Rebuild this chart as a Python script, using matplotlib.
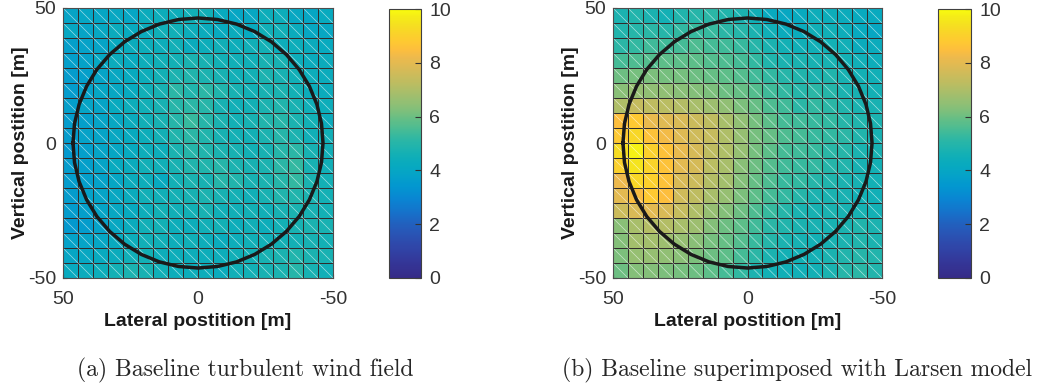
import numpy as np
import matplotlib
matplotlib.use('Agg')
import matplotlib.pyplot as plt
from matplotlib.colors import LinearSegmentedColormap, Normalize
from matplotlib.collections import LineCollection

# grid edges [m] (display order: left->right is 50 -> -50, top->bottom is 50 -> -50)
lateral_edges = np.linspace(50, -50, 19)
vertical_edges = np.linspace(50, -50, 19)
rotor_radius = 46.3

# (a) baseline turbulent wind field [m/s], rows top -> bottom
baseline = [
    [3.9, 4.0, 4.0, 4.1, 4.0, 4.3, 4.4, 4.4, 4.5, 4.5, 4.2, 4.0, 4.1, 4.4, 4.4, 4.1, 4.0, 4.2],
    [4.1, 3.9, 4.1, 4.3, 4.2, 4.3, 4.5, 4.5, 4.4, 4.3, 4.2, 4.3, 4.2, 4.5, 4.5, 4.3, 4.1, 4.1],
    [3.7, 3.8, 3.9, 4.2, 4.3, 4.4, 4.4, 4.5, 4.3, 4.4, 4.5, 4.4, 4.5, 4.6, 4.4, 4.4, 4.3, 4.2],
    [3.7, 3.8, 4.1, 4.3, 4.2, 4.4, 4.5, 4.6, 4.8, 4.7, 4.6, 4.5, 4.5, 4.7, 4.7, 4.4, 4.3, 4.3],
    [3.6, 3.7, 3.9, 4.1, 4.2, 4.4, 4.6, 4.8, 4.9, 4.8, 4.7, 4.5, 4.6, 4.8, 4.7, 4.5, 4.4, 4.3],
    [3.6, 3.8, 4.0, 4.1, 4.2, 4.5, 4.7, 5.1, 4.9, 5.1, 4.9, 4.7, 4.6, 4.7, 4.8, 4.6, 4.4, 4.3],
    [3.7, 3.9, 3.9, 4.2, 4.4, 4.5, 4.7, 5.0, 5.1, 5.0, 4.7, 4.5, 4.6, 4.8, 4.9, 4.7, 4.5, 4.4],
    [3.6, 3.7, 3.9, 4.1, 4.3, 4.5, 4.7, 5.0, 5.3, 5.0, 4.8, 4.6, 4.7, 4.9, 5.0, 4.8, 4.6, 4.3],
    [3.6, 3.8, 3.9, 4.1, 4.2, 4.4, 4.6, 4.9, 5.1, 4.9, 4.7, 4.6, 4.6, 4.8, 5.0, 4.8, 4.5, 4.5],
    [3.5, 3.7, 3.9, 4.0, 4.2, 4.4, 4.4, 4.8, 5.0, 4.9, 4.8, 4.7, 4.6, 4.7, 5.0, 5.1, 4.7, 4.5],
    [3.6, 3.7, 3.9, 4.2, 4.3, 4.5, 4.5, 4.7, 4.9, 4.9, 5.0, 4.8, 4.7, 4.8, 5.1, 5.2, 4.7, 4.5],
    [3.6, 3.7, 3.8, 4.0, 4.3, 4.4, 4.2, 4.6, 4.8, 4.7, 5.0, 4.9, 4.7, 4.8, 5.0, 5.2, 4.8, 4.6],
    [3.6, 3.8, 3.9, 4.1, 4.3, 4.5, 4.5, 4.6, 4.7, 4.8, 4.7, 4.6, 4.5, 4.7, 4.9, 4.9, 4.8, 4.6],
    [3.6, 3.7, 3.9, 4.1, 4.2, 4.4, 4.6, 4.5, 4.6, 4.7, 4.5, 4.5, 4.6, 4.5, 4.7, 4.8, 4.7, 4.6],
    [3.5, 3.6, 3.8, 4.1, 4.3, 4.5, 4.6, 4.4, 4.4, 4.5, 4.6, 4.4, 4.5, 4.4, 4.6, 4.7, 4.8, 4.7],
    [3.8, 3.9, 4.0, 4.2, 4.4, 4.5, 4.5, 4.4, 4.5, 4.4, 4.3, 4.4, 4.5, 4.5, 4.6, 4.6, 4.7, 4.6],
    [4.0, 4.1, 4.2, 4.3, 4.5, 4.6, 4.4, 4.4, 4.4, 4.4, 4.4, 4.5, 4.6, 4.7, 4.8, 4.9, 4.8, 4.7],
    [4.2, 4.3, 4.4, 4.6, 4.8, 4.7, 4.5, 4.4, 4.4, 4.4, 4.3, 4.5, 4.6, 4.7, 4.8, 5.0, 4.7, 4.5],
]

# (b) baseline superimposed with Larsen wake model [m/s], rows top -> bottom
larsen = [
    [4.8, 4.9, 4.8, 4.6, 4.9, 5.0, 5.1, 4.9, 4.8, 4.5, 4.2, 4.1, 4.2, 4.4, 4.4, 4.3, 4.2, 4.2],
    [4.9, 5.0, 5.1, 5.0, 5.2, 5.3, 5.3, 5.1, 5.0, 4.8, 4.5, 4.3, 4.3, 4.5, 4.5, 4.4, 4.2, 4.1],
    [5.1, 5.2, 5.4, 5.4, 5.5, 5.6, 5.5, 5.4, 5.3, 5.0, 4.8, 4.6, 4.5, 4.5, 4.6, 4.5, 4.3, 4.3],
    [5.5, 5.6, 5.7, 5.8, 5.8, 5.8, 5.7, 5.6, 5.5, 5.2, 4.9, 4.8, 4.8, 4.7, 4.7, 4.6, 4.5, 4.4],
    [6.0, 6.1, 6.2, 6.1, 6.1, 6.0, 5.9, 5.8, 5.7, 5.4, 5.2, 5.0, 4.9, 4.8, 4.9, 4.7, 4.6, 4.5],
    [6.4, 6.6, 6.5, 6.5, 6.4, 6.3, 6.2, 6.0, 5.9, 5.7, 5.4, 5.2, 5.0, 5.1, 5.0, 4.8, 4.7, 4.6],
    [7.0, 7.4, 7.3, 7.2, 7.1, 6.9, 6.7, 6.5, 6.2, 5.9, 5.6, 5.4, 5.1, 5.2, 5.1, 4.9, 4.8, 4.7],
    [8.5, 8.8, 8.1, 7.9, 7.8, 7.5, 7.3, 6.9, 6.5, 6.1, 5.8, 5.5, 5.4, 5.3, 5.2, 5.0, 4.9, 4.8],
    [8.8, 9.2, 8.6, 8.3, 7.9, 7.6, 7.4, 7.0, 6.6, 6.1, 5.9, 5.6, 5.5, 5.3, 5.2, 5.1, 4.9, 4.7],
    [9.3, 9.8, 9.0, 8.6, 8.1, 7.7, 7.3, 7.0, 6.6, 6.1, 5.8, 5.5, 5.4, 5.3, 5.1, 5.0, 4.8, 4.7],
    [9.0, 9.5, 9.1, 8.6, 8.0, 7.7, 7.2, 6.9, 6.4, 6.0, 5.7, 5.4, 5.3, 5.2, 5.0, 4.9, 4.7, 4.6],
    [8.2, 9.2, 9.0, 8.6, 7.8, 7.5, 7.1, 6.8, 6.3, 5.9, 5.6, 5.3, 5.2, 5.0, 4.9, 4.8, 4.7, 4.6],
    [8.0, 8.4, 8.8, 8.5, 7.6, 7.3, 6.9, 6.6, 6.2, 5.8, 5.5, 5.2, 5.0, 4.8, 4.8, 4.7, 4.6, 4.5],
    [7.5, 7.8, 8.0, 7.8, 7.4, 7.0, 6.6, 6.3, 6.0, 5.6, 5.3, 5.0, 4.8, 4.7, 4.8, 4.7, 4.7, 4.6],
    [6.4, 6.9, 7.1, 7.1, 6.9, 6.7, 6.3, 6.0, 5.8, 5.4, 5.1, 4.9, 4.8, 4.7, 4.7, 4.8, 4.9, 4.8],
    [6.3, 6.8, 6.8, 6.7, 6.6, 6.4, 6.1, 5.9, 5.7, 5.3, 5.0, 4.8, 4.7, 4.6, 4.7, 4.8, 4.9, 4.8],
    [6.2, 6.6, 6.6, 6.5, 6.4, 6.2, 6.0, 5.8, 5.5, 5.1, 4.8, 4.6, 4.6, 4.6, 4.8, 4.9, 5.0, 4.9],
    [6.0, 6.3, 6.3, 6.2, 6.1, 6.0, 5.8, 5.5, 5.2, 4.8, 4.6, 4.5, 4.5, 4.6, 4.8, 5.0, 5.1, 4.9],
]

captions = ['(a) Baseline turbulent wind field',
            '(b) Baseline superimposed with Larsen model']

# parula-like map, blues toned down to match the printed figure
parula_pts = [
    (0.00, (0.2081, 0.1663, 0.5292)), (0.06, (0.205, 0.215, 0.600)),
    (0.12, (0.185, 0.280, 0.665)), (0.18, (0.150, 0.350, 0.725)),
    (0.24, (0.090, 0.440, 0.790)), (0.29, (0.040, 0.520, 0.825)),
    (0.34, (0.010, 0.590, 0.815)), (0.38, (0.020, 0.635, 0.785)),
    (0.42, (0.030, 0.665, 0.750)), (0.46, (0.075, 0.690, 0.710)),
    (0.50, (0.145, 0.710, 0.665)), (0.53, (0.218, 0.725, 0.619)),
    (0.56, (0.302, 0.738, 0.571)), (0.59, (0.395, 0.746, 0.524)),
    (0.62, (0.487, 0.749, 0.484)), (0.66, (0.590, 0.748, 0.445)),
    (0.70, (0.680, 0.744, 0.405)), (0.74, (0.770, 0.737, 0.368)),
    (0.78, (0.850, 0.730, 0.336)), (0.82, (0.930, 0.727, 0.300)),
    (0.85, (0.990, 0.745, 0.240)), (0.88, (0.996, 0.786, 0.197)),
    (0.91, (0.979, 0.827, 0.163)), (0.94, (0.963, 0.871, 0.131)),
    (0.97, (0.960, 0.922, 0.095)), (1.00, (0.9763, 0.9831, 0.0538)),
]
parula = LinearSegmentedColormap.from_list('parula', parula_pts, N=256)

TXT = '0.2'
plt.rcParams['font.family'] = ['Liberation Sans', 'DejaVu Sans']
plt.rcParams['axes.unicode_minus'] = False


def drawField(ax, cax, values):
       values = np.array(values)
       norm = Normalize(0, 10)
       mesh = ax.pcolormesh(lateral_edges, vertical_edges, values, cmap=parula, norm=norm,
                            edgecolors='#302c2c', linewidth=0.6)

       # white diagonals of the triangulated surface
       segs = []
       for i in range(len(vertical_edges) - 1):
              for j in range(len(lateral_edges) - 1):
                     segs.append([(lateral_edges[j], vertical_edges[i]),
                                  (lateral_edges[j + 1], vertical_edges[i + 1])])
       ax.add_collection(LineCollection(segs, colors='white', linewidths=0.5, alpha=0.6))

       t = np.linspace(0, 2 * np.pi, 41)
       ax.plot(rotor_radius * np.cos(t), rotor_radius * np.sin(t), color='#1a1a1a', lw=2.5)

       ax.set_xlim(50, -50)
       ax.set_ylim(-50, 50)
       ax.set_xticks([50, 0, -50])
       ax.set_yticks([-50, 0, 50])
       ax.tick_params(direction='in', labelsize=14, colors=TXT, length=3, pad=5)
       ax.tick_params(axis='x', pad=9)
       ax.set_xlabel('Lateral postition [m]', fontsize=14, fontweight='bold', color='0.1', labelpad=4)
       ax.set_ylabel('Vertical postition [m]', fontsize=14, fontweight='bold', color='0.1', labelpad=-1)
       for s in ax.spines.values():
              s.set_color('0.3')

       cb = plt.colorbar(mesh, cax=cax, ticks=range(0, 11, 2))
       cb.ax.tick_params(direction='in', labelsize=14, colors=TXT, length=4, pad=6)
       cb.outline.set_edgecolor('0.25')
       cb.outline.set_linewidth(0.8)


def main():
       fig = plt.figure(figsize=(10.38, 3.85), dpi=100)
       W, H = 1038.0, 385.0

       ax1 = fig.add_axes([63 / W, 1 - 278 / H, 270 / W, 270 / H])
       cax1 = fig.add_axes([389 / W, 1 - 278 / H, 32 / W, 269 / H])
       ax2 = fig.add_axes([613 / W, 1 - 278 / H, 269 / W, 270 / H])
       cax2 = fig.add_axes([938 / W, 1 - 278 / H, 33 / W, 269 / H])

       drawField(ax1, cax1, baseline)
       drawField(ax2, cax2, larsen)

       fig.text(245 / W, 1 - 370 / H, captions[0], ha='center', va='center',
                fontsize=17, family=['cmr10', 'DejaVu Serif'], color='0.15')
       fig.text(797 / W, 1 - 370 / H, captions[1], ha='center', va='center',
                fontsize=17, family=['cmr10', 'DejaVu Serif'], color='0.15')

       fig.savefig('out.png', dpi=100)


if __name__ == '__main__':
       main()
